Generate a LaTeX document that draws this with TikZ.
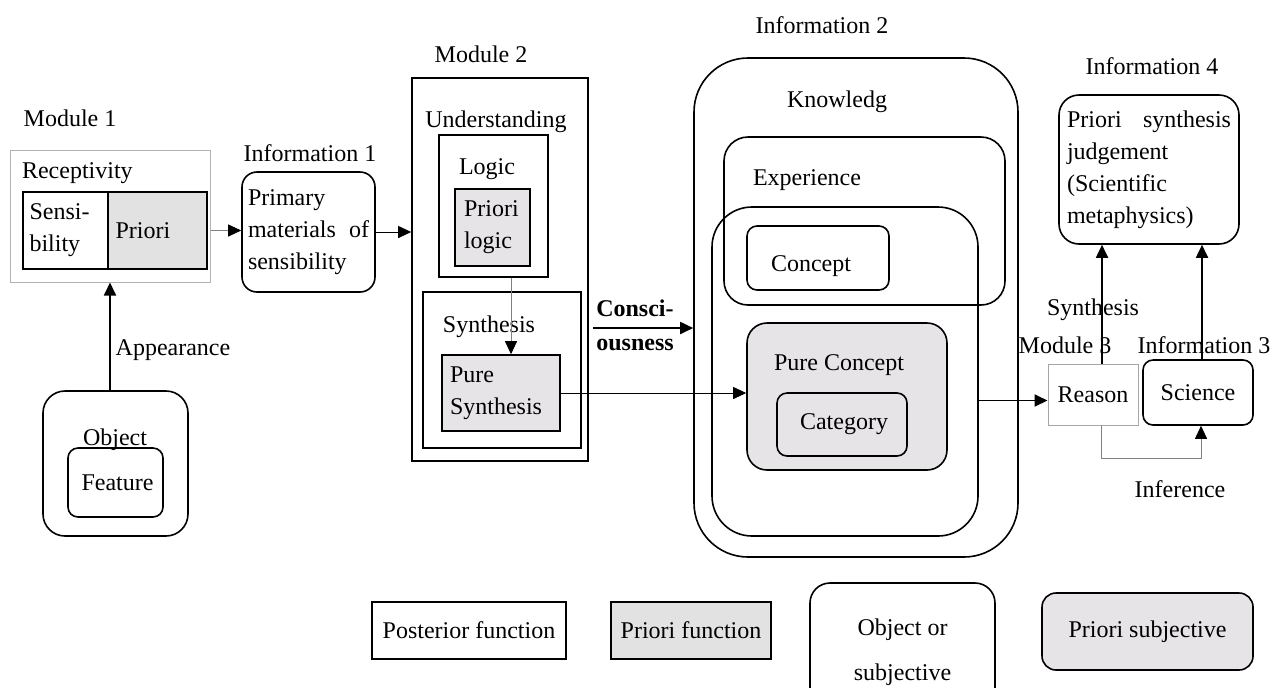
\documentclass[tikz,border=0pt]{standalone}
\usepackage{fontspec}
\setmainfont{Liberation Serif}
\usetikzlibrary{arrows.meta,positioning}
\definecolor{subjgray}{HTML}{E6E4E6}
\definecolor{dotgray}{HTML}{E2E2E2}
\tikzset{
    %Define standard arrow tip
    >={Triangle[length=6.5pt,width=6pt]},
    %Define style for plain boxes
    postbox/.style={
           rectangle,
           draw=black, line width=0.8pt,
           inner sep=0pt},
    pribox/.style={
           postbox,
           fill=dotgray},
    %Define style for rounded boxes
    objbox/.style={
           rectangle,
           rounded corners=#1,
           draw=black, line width=0.8pt,
           inner sep=0pt},
    objbox/.default=6pt,
    subjbox/.style={
           objbox=#1,
           fill=subjgray},
    subjbox/.default=6pt,
    % Define arrow styles
    pil/.style={
           ->,
           line width=0.9pt},
    tynpil/.style={
           ->,
           line width=0.45pt},
    graapil/.style={
           -{Triangle[length=6.5pt,width=6pt,color=black]},
           draw=gray,
           line width=0.45pt}
}

\begin{document}
\begin{tikzpicture}[x=0.5pt, y=-0.5pt,
    every node/.style={font=\fontsize{12pt}{16pt}\selectfont}]
    \useasboundingbox (0,0) rectangle (1288,687);
    \clip (0,0) rectangle (1288,687);

    % module 1
    \node (mod1lbl) at (70,118) {Module 1};
    \node[postbox, draw=gray!60, line width=0.5pt,
        minimum width=100pt, minimum height=66pt] (recep) at (110,216) {};
    \node[anchor=west] (receplbl) at (15,173) {Receptivity};
    \node[postbox, minimum width=42.5pt, minimum height=38.5pt,
        text width=36pt, inner xsep=3.25pt, align=left] (sensi) at (65.5,230.5) {Sensi-\\bility};
    \node[pribox, minimum width=49.5pt, minimum height=38.5pt,
        text width=42pt, inner xsep=3.75pt, align=left] (apriori) at (157.5,230.5) {Priori};
    \node (objlbl) at (115,440) {Object};
    \node[objbox=11pt, minimum width=72.5pt, minimum height=72.5pt] (obj) at (115.5,463.5) {};
    \node[objbox=5pt, minimum width=47.5pt, minimum height=34.5pt] (feature) at (115.5,482.5) {\,Feature};
    \node (appearlbl) at (173,350) {Appearance};
    \draw[pil] (obj.north -| recep.south) -- (recep.south);

    % information 1
    \node (info1lbl) at (310,153) {Information 1};
    \node[objbox=7.5pt, minimum height=60pt, text width=60.5pt,
        inner xsep=3pt, align=left] (info1) at (308.5,232) {Primary\\materials\hfill of\\sensibility};
    \draw[graapil] (recep.east |- apriori) -- (info1.west |- apriori);

    % module 2
    \node (mod2lbl) at (481,54) {Module 2};
    \node[postbox, minimum width=88pt, minimum height=191.5pt] (mod2) at (500,269.5) {};
    \node (undlbl) at (496,122) {Understanding};
    \node[postbox, minimum width=54.5pt, minimum height=71pt] (logic) at (493.5,206) {};
    \node (logiclbl) at (487,169) {Logic};
    \node[subjbox=0pt, minimum width=37.5pt, minimum height=38.5pt,
        text width=28.5pt, inner xsep=4.5pt, align=left] (plogic) at (492.5,227.5) {Priori\\logic};
    \node[postbox, minimum width=79pt, minimum height=78pt] (synth) at (502,370) {};
    \node (synthlbl) at (489,327) {Synthesis};
    \node[subjbox=0pt, minimum width=59pt, minimum height=38pt,
        text width=51pt, inner xsep=4pt, align=left] (psynth) at (501,393) {Pure\\Synthesis};
    \draw[tynpil] (info1.east) -- (info1.east -| mod2.west);
    \draw[graapil] ([xshift=5pt]psynth.north |- logic.south) -- ([xshift=5pt]psynth.north);

    % information 2
    \node (info2lbl) at (822,25) {Information 2};
    \node[objbox=27pt, minimum width=162pt, minimum height=249.5pt] (know) at (856,307.5) {};
    \node (knowlbl) at (837,102) {Knowledg};
    \node[objbox=12pt, minimum width=140.5pt, minimum height=84pt] (exper) at (864.5,221) {};
    \node (experlbl) at (807,180) {Experience};
    \node[objbox=20pt, minimum width=133pt, minimum height=164.5pt] (pureknow) at (845,371.5) {};
    \node[objbox=5pt, minimum width=71pt, minimum height=32pt] (concept) at (818,258) {};
    \node (conceptlbl) at (811,266) {Concept};
    \node[subjbox=10pt, minimum width=100pt, minimum height=73.5pt] (pconcept) at (847,396.5) {};
    \node (pconlbl) at (839,365) {Pure Concept};
    \node[subjbox=5pt, minimum width=65pt, minimum height=31.5pt] (category) at (842,424.5) {\,Category};
    \node[font=\fontsize{12pt}{17pt}\selectfont\bfseries, align=left] (conslbl) at (635,325) {Consci-\\ousness};
    \coordinate (consin) at (593,328);
    \draw[pil] (consin) -- (consin -| know.west);
    \draw[tynpil] (psynth.east) -- (psynth.east -| pconcept.west);

    % module 3, information 3 and 4
    \node (info4lbl) at (1152,66) {Information 4};
    \node[objbox=10pt, minimum height=74.5pt, text width=82pt,
        inner xsep=4pt, align=left] (info4) at (1149,169.5) {Priori\hfill synthesis\\judgement\\(Scientific\\metaphysics)};
    \node[postbox, draw=gray!70, line width=0.5pt,
        minimum width=45pt, minimum height=30.5pt] (reason) at (1093,394.5) {Reason};
    \node[objbox=5pt, minimum width=55pt, minimum height=32.5pt] (science) at (1198,392.5) {Science};
    \node (synlbl) at (1093,310) {Synthesis};
    \node (mod3lbl) at (1065,345) {Module 3};
    \node (info3lbl) at (1204,345) {Information 3};
    \node (inflbl) at (1180,489) {Inference};
    \draw[pil] ([yshift=-3pt]reason.west -| pureknow.east) -- ([yshift=-3pt]reason.west);
    \draw[pil] ([xshift=4.5pt]reason.north) -- ([xshift=4.5pt]reason.north |- info4.south);
    \draw[pil] ([xshift=2pt]science.north) -- ([xshift=2pt]science.north |- info4.south);
    \draw[graapil] ([xshift=4pt]reason.south) -- ++(0,33) -| ([xshift=1.5pt]science.south);

    % legend
    \node[postbox, minimum width=97pt, minimum height=28.5pt] (lgpost) at (469,630.5) {Posterior function};
    \node[pribox, minimum width=80pt, minimum height=28.5pt] (lgpri) at (691,630.5) {Priori function};
    \node[objbox=10pt, minimum width=92.5pt, minimum height=69pt,
        font=\fontsize{12pt}{22.5pt}\selectfont, align=center] (lgobj) at (902.5,652) {Object or\\subjective};
    \node[subjbox=7pt, minimum width=105.5pt, minimum height=38.5pt] (lgsubj) at (1147.5,631.5) {Priori subjective};
\end{tikzpicture}
\end{document}
